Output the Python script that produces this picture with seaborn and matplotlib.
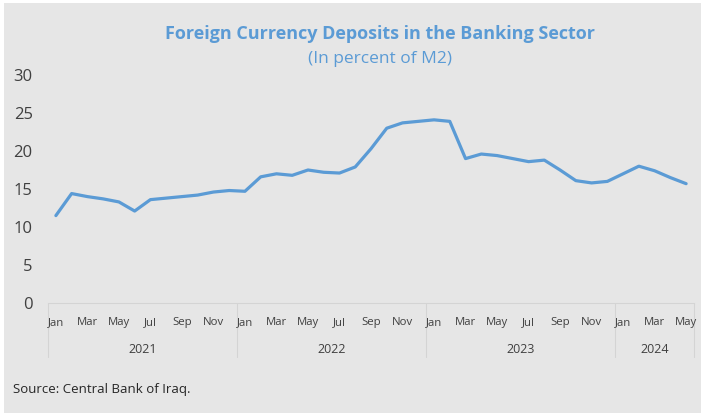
import matplotlib
matplotlib.use("Agg")
import matplotlib.pyplot as plt
import matplotlib.transforms as mtransforms
from matplotlib.patches import Rectangle
import pandas as pd
import seaborn as sns

# Foreign currency deposits, % of M2, monthly Jan 2021 - May 2024
years = ["2021", "2022", "2023", "2024"]
months_per_year = [12, 12, 12, 5]
month_names = ["Jan", "Feb", "Mar", "Apr", "May", "Jun",
               "Jul", "Aug", "Sep", "Oct", "Nov", "Dec"]
deposits = [11.5, 14.4, 14.0, 13.7, 13.3, 12.1, 13.6, 13.8, 14.0, 14.2, 14.6, 14.8,
            14.7, 16.6, 17.0, 16.8, 17.5, 17.2, 17.1, 17.9, 20.3, 23.0, 23.7, 23.9,
            24.1, 23.9, 19.0, 19.6, 19.4, 19.0, 18.6, 18.8, 17.5, 16.1, 15.8, 16.0,
            17.0, 18.0, 17.4, 16.5, 15.7]

labels = []
year_col = []
for y, n in zip(years, months_per_year):
    labels += month_names[:n]
    year_col += [y] * n
df = pd.DataFrame({"idx": range(len(deposits)), "month": labels,
                   "year": year_col, "value": deposits})

BG = "#e6e6e6"
BLUE = "#5b9bd5"
TXT = "#404040"

sns.set_theme(style="white")
plt.rcParams["font.family"] = ["Open Sans", "DejaVu Sans"]

fig = plt.figure(figsize=(7.01, 4.13), dpi=100, facecolor="white")
fig.patches.append(Rectangle((4 / 701, 0), 1, 1 - 3 / 413, transform=fig.transFigure,
                             facecolor=BG, edgecolor="none", zorder=-10))
ax = fig.add_axes([48 / 701, 110 / 413, 646 / 701, 228 / 413])
ax.set_facecolor(BG)

sns.lineplot(data=df, x="idx", y="value", color=BLUE, linewidth=2.3, ax=ax,
             solid_joinstyle="round", solid_capstyle="round")

ax.set_xlim(-0.5, len(deposits) - 0.5)
ax.set_ylim(0, 30)
ax.set_yticks(range(0, 31, 5))
ax.tick_params(axis="y", length=0, pad=11, labelsize=12, labelcolor=TXT)
ax.set_xticks(df["idx"][::2])
ax.set_xticklabels(df["month"][::2], fontsize=8.2, color=TXT)
ax.tick_params(axis="x", length=0, pad=10)
ax.set_xlabel("")
ax.set_ylabel("")

for side in ["top", "right", "left"]:
    ax.spines[side].set_visible(False)
ax.spines["bottom"].set_color("#d4d4d4")
ax.spines["bottom"].set_linewidth(0.8)

# year groups and separators under the axis
trans = mtransforms.blended_transform_factory(ax.transData, ax.transAxes)
start = 0
for y, n in zip(years, months_per_year):
    ax.plot([start - 0.5, start - 0.5], [0, -0.237], transform=trans,
            color="#d4d4d4", lw=0.8, clip_on=False, zorder=0.5)
    ax.text(start + (n - 1) / 2, -0.202, y, transform=trans, ha="center", va="center",
            fontsize=9, color=TXT)
    start += n
ax.plot([start - 0.5, start - 0.5], [0, -0.237], transform=trans,
        color="#d4d4d4", lw=0.8, clip_on=False, zorder=0.5)

fig.text(0.542, 1 - 34 / 413, "Foreign Currency Deposits in the Banking Sector",
         ha="center", va="center", fontsize=13, fontweight="bold", color=BLUE)
fig.text(0.542, 1 - 59 / 413, "(In percent of M2)", ha="center", va="center",
         fontsize=12.5, color=BLUE)
fig.text(13 / 701, 1 - 390 / 413, "Source: Central Bank of Iraq.", ha="left",
         va="center", fontsize=9.5, color="#262626")

fig.savefig("out.png", dpi=100, facecolor=fig.get_facecolor())
